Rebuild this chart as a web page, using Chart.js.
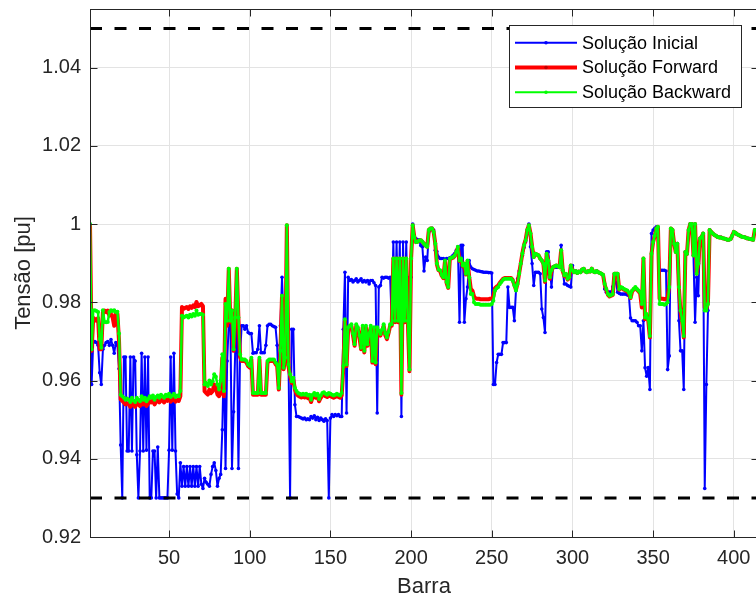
<!DOCTYPE html>
<html>
<head>
<meta charset="utf-8">
<script src="https://cdn.jsdelivr.net/npm/chart.js@4/dist/chart.umd.min.js"></script>
<style>
  html, body { margin: 0; padding: 0; background: #fff; overflow: hidden; }
  #wrap { width: 780px; height: 600px; }
</style>
</head>
<body>
<div id="wrap"><canvas id="chart"></canvas></div>
<script>
const inicial = [
  1.0, 0.959, 0.9697, 0.97, 0.9697, 0.969, 0.962, 0.959, 0.968, 0.969,
  0.9697, 0.97, 0.969, 0.9705, 0.969, 0.967, 0.9697, 0.969, 0.963, 0.9435,
  0.93, 0.966, 0.966, 0.942, 0.942, 0.966, 0.942, 0.966, 0.965, 0.941,
  0.93, 0.942, 0.967, 0.942, 0.966, 0.9422, 0.966, 0.93, 0.93, 0.942,
  0.942, 0.93, 0.943, 0.93, 0.93, 0.93, 0.93, 0.93, 0.93, 0.9422,
  0.966, 0.9422, 0.967, 0.942, 0.931, 0.93, 0.939, 0.933, 0.938, 0.933,
  0.938, 0.933, 0.938, 0.933, 0.938, 0.933, 0.938, 0.933, 0.938, 0.9335,
  0.9324, 0.935, 0.934, 0.9335, 0.933, 0.936, 0.938, 0.939, 0.937, 0.933,
  0.935, 0.936, 0.9474, 0.9667, 0.9375, 0.965, 0.9744, 0.9753, 0.9375, 0.952,
  0.9676, 0.9744, 0.9375, 0.9667, 0.974, 0.974, 0.9731, 0.974, 0.9723, 0.972,
  0.972, 0.967, 0.9671, 0.9671, 0.968, 0.974, 0.9671, 0.9671, 0.9671, 0.969,
  0.974, 0.9744, 0.9744, 0.974, 0.9738, 0.9736, 0.969, 0.958, 0.974, 0.9864,
  0.9744, 0.9658, 0.9736, 0.9658, 0.93, 0.9731, 0.9731, 0.9538, 0.9508, 0.9508,
  0.9506, 0.9504, 0.9502, 0.9504, 0.95, 0.9502, 0.95, 0.9508, 0.9504, 0.951,
  0.95, 0.9506, 0.9498, 0.9504, 0.95, 0.9496, 0.9502, 0.9498, 0.93, 0.9504,
  0.9513, 0.9508, 0.9513, 0.951, 0.9513, 0.9508, 0.9508, 0.9731, 0.9877, 0.9517,
  0.9864, 0.9856, 0.9858, 0.9852, 0.9856, 0.986, 0.9852, 0.9856, 0.986, 0.9852,
  0.9856, 0.9852, 0.9856, 0.9847, 0.9856, 0.9856, 0.985, 0.9843, 0.9517, 0.9839,
  0.9843, 0.9864, 0.9862, 0.9864, 0.9864, 0.9862, 0.9864, 0.9753, 0.9954, 0.9753,
  0.9954, 0.9753, 0.9954, 0.9508, 0.9954, 0.9753, 0.9954, 0.9753, 0.9864, 0.9864,
  1.0, 0.9967, 0.9963, 0.996, 0.996, 0.9945, 0.9942, 0.988, 0.9916, 0.9907,
  0.998, 0.9985, 0.9989, 0.9985, 0.9933, 0.993, 0.9916, 0.9912, 0.9912, 0.9912,
  0.991, 0.9912, 0.9912, 0.9914, 0.9916, 0.992, 0.9925, 0.9933, 0.9942, 0.9749,
  0.9946, 0.9946, 0.9749, 0.9809, 0.9839, 0.9907, 0.989, 0.9886, 0.9884, 0.9882,
  0.988, 0.988, 0.9879, 0.9878, 0.9877, 0.9877, 0.9877, 0.9876, 0.9876, 0.9875,
  0.959, 0.959, 0.9646, 0.9667, 0.9667, 0.9667, 0.9697, 0.9697, 0.9697, 0.9839,
  0.9787, 0.9787, 0.9787, 0.9753, 0.983, 0.986, 0.988, 0.9899, 0.992, 0.994,
  0.9955, 0.9985, 1.0, 0.9942, 0.9899, 0.9843, 0.9877, 0.9877, 0.9877, 0.9873,
  0.9783, 0.9761, 0.9723, 0.9929, 0.9929, 0.989, 0.9839, 0.989, 0.989, 0.989,
  0.989, 0.989, 0.9946, 0.9882, 0.9847, 0.9847, 0.9843, 0.9841, 0.9839, 0.9894,
  0.9877, 0.988, 0.9875, 0.9879, 0.9877, 0.9884, 0.9886, 0.9879, 0.9877, 0.988,
  0.9879, 0.9886, 0.9879, 0.9877, 0.988, 0.9877, 0.9875, 0.9873, 0.987, 0.9834,
  0.9826, 0.9826, 0.9826, 0.9826, 0.984, 0.9873, 0.985, 0.9826, 0.9823, 0.9821,
  0.9821, 0.9821, 0.9821, 0.9819, 0.9817, 0.976, 0.9753, 0.9753, 0.9753, 0.9749,
  0.974, 0.974, 0.9676, 0.9753, 0.9633, 0.9611, 0.9633, 0.9577, 0.9976, 0.9985,
  0.9989, 0.9993, 0.9989, 0.9882, 0.9882, 0.9882, 0.9882, 0.988, 0.9628, 0.9663,
  0.9985, 0.9985, 0.995, 0.995, 0.995, 0.9753, 0.9676, 0.9676, 0.9577, 0.9929,
  0.9924, 0.9985, 1.0, 1.0, 0.992, 0.9749, 0.9864, 0.9817, 0.9963, 0.9967,
  0.9976, 0.9324, 0.959, 0.9779, 0.9985, 0.998, 0.9976, 0.9972, 0.997, 0.9967,
  0.9966, 0.9966, 0.9964, 0.9963, 0.9962, 0.996, 0.996, 0.9962, 0.997, 0.998,
  0.9978, 0.9974, 0.9972, 0.997, 0.9968, 0.9967, 0.9966, 0.9964, 0.9963, 0.9962,
  0.9961, 0.996, 0.9985, 0.9985, 0.9985
]

const forward = [
  1.0, 0.9676, 0.976, 0.9757, 0.9753, 0.976, 0.968, 0.968, 0.9775, 0.9779,
  0.9775, 0.9779, 0.9766, 0.977, 0.9762, 0.974, 0.9775, 0.977, 0.97, 0.9552,
  0.9548, 0.9544, 0.9539, 0.9542, 0.9539, 0.9533, 0.9544, 0.9537, 0.9533, 0.9544,
  0.9539, 0.9535, 0.9548, 0.9539, 0.9544, 0.9535, 0.9541, 0.9548, 0.9544, 0.955,
  0.9539, 0.9546, 0.955, 0.9544, 0.9552, 0.9548, 0.9544, 0.9552, 0.9548, 0.9554,
  0.9546, 0.955, 0.9554, 0.9546, 0.955, 0.9548, 0.956, 0.9788, 0.9783, 0.9786,
  0.9788, 0.9783, 0.979, 0.9786, 0.9792, 0.9788, 0.9801, 0.979, 0.9792, 0.9796,
  0.979, 0.9573, 0.9568, 0.9564, 0.9577, 0.9568, 0.9573, 0.959, 0.9581, 0.9564,
  0.956, 0.9568, 0.9658, 0.956, 0.9809, 0.974, 0.9886, 0.9749, 0.9779, 0.9676,
  0.9757, 0.9886, 0.9757, 0.966, 0.965, 0.965, 0.965, 0.9646, 0.9637, 0.9633,
  0.9654, 0.9564, 0.9564, 0.9564, 0.9564, 0.9654, 0.9564, 0.9564, 0.9564, 0.9564,
  0.9646, 0.965, 0.965, 0.965, 0.965, 0.9642, 0.9637, 0.9577, 0.9672, 0.9817,
  0.9629, 0.9654, 0.9997, 0.9637, 0.9612, 0.9594, 0.9603, 0.9577, 0.9566, 0.9561,
  0.9559, 0.9557, 0.9559, 0.9557, 0.9559, 0.9555, 0.9557, 0.9545, 0.9558, 0.9562,
  0.9556, 0.956, 0.9547, 0.9556, 0.9562, 0.9564, 0.956, 0.9558, 0.9562, 0.956,
  0.9558, 0.9556, 0.9558, 0.956, 0.9558, 0.9556, 0.9562, 0.9633, 0.9753, 0.9637,
  0.9732, 0.9736, 0.974, 0.9716, 0.9689, 0.974, 0.9732, 0.9711, 0.968, 0.9736,
  0.9672, 0.9736, 0.9689, 0.9716, 0.9736, 0.9646, 0.9732, 0.9642, 0.9732, 0.9723,
  0.9715, 0.9726, 0.974, 0.9716, 0.9706, 0.9721, 0.974, 0.974, 0.9912, 0.9749,
  0.9912, 0.9749, 0.9912, 0.9564, 0.9912, 0.9749, 0.9912, 0.9749, 0.9624, 0.9912,
  0.9997, 0.9967, 0.9954, 0.9955, 0.9958, 0.9959, 0.9955, 0.995, 0.9945, 0.9942,
  0.9985, 0.9989, 0.9989, 0.998, 0.995, 0.9897, 0.9882, 0.988, 0.9868, 0.9862,
  0.9905, 0.985, 0.9837, 0.991, 0.9912, 0.9914, 0.9918, 0.9927, 0.994, 0.9905,
  0.991, 0.9892, 0.9897, 0.9871, 0.9905, 0.9866, 0.9834, 0.983, 0.9815, 0.981,
  0.9809, 0.9809, 0.9808, 0.9808, 0.9808, 0.9808, 0.9808, 0.9808, 0.9809, 0.981,
  0.9815, 0.9836, 0.984, 0.9843, 0.985, 0.9855, 0.986, 0.9862, 0.9862, 0.9862,
  0.9862, 0.9862, 0.9857, 0.9845, 0.9832, 0.9849, 0.9875, 0.99, 0.9926, 0.9947,
  0.996, 0.9985, 0.9997, 0.9976, 0.9942, 0.9916, 0.9924, 0.9922, 0.992, 0.9912,
  0.9907, 0.9899, 0.9852, 0.9924, 0.9907, 0.986, 0.988, 0.989, 0.9892, 0.9894,
  0.9892, 0.989, 0.9933, 0.988, 0.9867, 0.9871, 0.9858, 0.9862, 0.9894, 0.9882,
  0.9877, 0.988, 0.9875, 0.9879, 0.9877, 0.9884, 0.9886, 0.9879, 0.9877, 0.988,
  0.9879, 0.9886, 0.9879, 0.9877, 0.988, 0.9877, 0.9875, 0.9873, 0.987, 0.9845,
  0.9832, 0.9819, 0.9815, 0.9817, 0.9819, 0.9873, 0.9873, 0.9873, 0.9832, 0.9837,
  0.9835, 0.9832, 0.983, 0.9828, 0.9823, 0.9811, 0.9828, 0.9833, 0.9837, 0.9832,
  0.9828, 0.9822, 0.9787, 0.9912, 0.9757, 0.9766, 0.9753, 0.971, 0.9924, 0.9954,
  0.997, 0.9989, 0.9993, 0.9809, 0.9809, 0.9809, 0.9808, 0.9809, 0.9812, 0.9845,
  0.9989, 0.9985, 0.995, 0.9929, 0.995, 0.9835, 0.9775, 0.9749, 0.971, 0.9929,
  0.9924, 0.9985, 1.0, 1.0, 0.992, 1.0, 0.9873, 0.9899, 0.9963, 0.9967,
  0.9976, 0.9787, 0.9783, 0.98, 0.9985, 0.998, 0.9976, 0.9972, 0.997, 0.9967,
  0.9966, 0.9966, 0.9964, 0.9963, 0.9962, 0.996, 0.996, 0.9962, 0.997, 0.998,
  0.9978, 0.9974, 0.9972, 0.997, 0.9968, 0.9967, 0.9966, 0.9964, 0.9963, 0.9962,
  0.9961, 0.996, 0.9985, 0.9985, 0.9985
]

const backward = [
  1.0, 0.968, 0.9779, 0.978, 0.9778, 0.9775, 0.9706, 0.9684, 0.978, 0.975,
  0.9749, 0.975, 0.9775, 0.978, 0.9778, 0.978, 0.9775, 0.9776, 0.972, 0.9564,
  0.956, 0.9556, 0.9551, 0.9554, 0.9551, 0.9545, 0.9556, 0.9549, 0.9545, 0.9556,
  0.9551, 0.9547, 0.956, 0.9551, 0.9556, 0.9547, 0.9553, 0.956, 0.9556, 0.9562,
  0.9551, 0.9558, 0.9562, 0.9556, 0.9564, 0.956, 0.9556, 0.9564, 0.956, 0.9566,
  0.9558, 0.9562, 0.9566, 0.9558, 0.9562, 0.956, 0.9573, 0.9766, 0.9761, 0.9764,
  0.9766, 0.9761, 0.9768, 0.9764, 0.977, 0.9766, 0.9779, 0.9768, 0.977, 0.977,
  0.9768, 0.959, 0.9594, 0.9586, 0.96, 0.959, 0.9598, 0.9616, 0.961, 0.959,
  0.9577, 0.96, 0.9667, 0.9573, 0.9796, 0.9753, 0.9886, 0.9753, 0.9779, 0.968,
  0.9761, 0.9886, 0.9761, 0.9667, 0.9654, 0.9654, 0.9654, 0.965, 0.9641, 0.9637,
  0.9658, 0.9568, 0.9568, 0.9568, 0.9568, 0.9658, 0.9568, 0.9568, 0.9568, 0.9568,
  0.965, 0.9654, 0.9654, 0.9654, 0.9654, 0.9646, 0.9641, 0.9581, 0.9676, 0.9817,
  0.9633, 0.9658, 0.9997, 0.9641, 0.9616, 0.9598, 0.9607, 0.9581, 0.9573, 0.9568,
  0.9566, 0.9564, 0.9566, 0.9564, 0.9566, 0.9562, 0.9564, 0.9551, 0.9564, 0.9568,
  0.9562, 0.9566, 0.9553, 0.9562, 0.9568, 0.957, 0.9566, 0.9564, 0.9568, 0.9566,
  0.9564, 0.9562, 0.9564, 0.9566, 0.9564, 0.9562, 0.9568, 0.9637, 0.9757, 0.9641,
  0.9736, 0.974, 0.9744, 0.972, 0.9693, 0.9744, 0.9736, 0.9715, 0.9684, 0.974,
  0.9676, 0.974, 0.9693, 0.972, 0.974, 0.965, 0.9736, 0.9646, 0.9736, 0.9727,
  0.9719, 0.973, 0.9744, 0.972, 0.971, 0.9725, 0.9744, 0.9744, 0.9912, 0.9753,
  0.9912, 0.9753, 0.9912, 0.9568, 0.9912, 0.9753, 0.9912, 0.9753, 0.9628, 0.9912,
  0.9997, 0.9967, 0.9954, 0.9955, 0.9958, 0.9959, 0.9955, 0.995, 0.9945, 0.9942,
  0.9985, 0.9989, 0.9989, 0.998, 0.995, 0.9899, 0.9884, 0.9882, 0.987, 0.9864,
  0.9907, 0.9852, 0.9839, 0.9912, 0.9914, 0.9916, 0.992, 0.9929, 0.9942, 0.9907,
  0.9912, 0.9894, 0.9899, 0.9873, 0.9907, 0.9864, 0.9821, 0.9821, 0.98, 0.9796,
  0.9796, 0.9796, 0.9794, 0.9794, 0.9794, 0.9794, 0.9794, 0.9794, 0.9794, 0.9796,
  0.9804, 0.983, 0.9836, 0.9839, 0.9847, 0.9852, 0.9858, 0.986, 0.986, 0.986,
  0.986, 0.986, 0.9855, 0.9843, 0.983, 0.9847, 0.9873, 0.9899, 0.9925, 0.9946,
  0.9959, 0.9985, 0.9997, 0.9976, 0.9942, 0.9916, 0.9924, 0.9922, 0.992, 0.9912,
  0.9907, 0.9899, 0.9856, 0.9924, 0.9907, 0.9864, 0.9882, 0.989, 0.9892, 0.9894,
  0.9892, 0.989, 0.9933, 0.9882, 0.9869, 0.9873, 0.986, 0.9864, 0.9894, 0.9882,
  0.9877, 0.988, 0.9875, 0.9879, 0.9877, 0.9884, 0.9886, 0.9879, 0.9877, 0.988,
  0.9879, 0.9886, 0.9879, 0.9877, 0.988, 0.9877, 0.9875, 0.9873, 0.987, 0.9847,
  0.9834, 0.9821, 0.9817, 0.9819, 0.9821, 0.9873, 0.9873, 0.9873, 0.9834, 0.9839,
  0.9837, 0.9834, 0.9832, 0.983, 0.9825, 0.9813, 0.983, 0.9835, 0.9839, 0.9834,
  0.983, 0.9826, 0.9796, 0.9912, 0.9761, 0.977, 0.9757, 0.9714, 0.9924, 0.9954,
  0.997, 0.9989, 0.9993, 0.9796, 0.9796, 0.9796, 0.9794, 0.9796, 0.98, 0.9839,
  0.9989, 0.9985, 0.995, 0.9929, 0.995, 0.9839, 0.9779, 0.9753, 0.9714, 0.9929,
  0.9924, 0.9985, 1.0, 1.0, 0.992, 1.0, 0.9873, 0.9899, 0.9963, 0.9967,
  0.9976, 0.9779, 0.9779, 0.9796, 0.9985, 0.998, 0.9976, 0.9972, 0.997, 0.9967,
  0.9966, 0.9966, 0.9964, 0.9963, 0.9962, 0.996, 0.996, 0.9962, 0.997, 0.998,
  0.9978, 0.9974, 0.9972, 0.997, 0.9968, 0.9967, 0.9966, 0.9964, 0.9963, 0.9962,
  0.9961, 0.996, 0.9985, 0.9985, 0.9985
]

// limites de tensao (linhas tracejadas)
const limiteInf = 0.93
const limiteSup = 1.05
const barraRange = [1, 415]

const xTicks = [50, 100, 150, 200, 250, 300, 350, 400]
const yTicks = [0.92, 0.94, 0.96, 0.98, 1.0, 1.02, 1.04]

const seriesNames = ['Solução Inicial', 'Solução Forward', 'Solução Backward']
const seriesColors = ['#0000ff', '#ff0000', '#00ff00']

const TEXT = '#262626'
const GRID = '#e3e3e3'
const FONT = '"Liberation Sans", Arial, Helvetica, sans-serif'

function toPoints(arr) {
  return arr.map((v, i) => ({x: i + 1, y: v}))
}

function limitLine(v) {
  return {
    data: barraRange.map(b => ({x: b, y: v})),
    borderColor: '#000',
    borderWidth: 3,
    borderDash: [12, 12.5],
    pointRadius: 0,
    order: 0,
  }
}

// caixa estilo matlab: borda em volta e ticks para dentro
const boxPlugin = {
  id: 'boxPlugin',
  afterDatasetsDraw(chart) {
    const {ctx, chartArea: a, scales} = chart
    const L = Math.round(a.left) + 0.5
    const R = Math.round(a.right) + 0.5
    const T = Math.round(a.top) + 0.5
    const B = Math.round(a.bottom) + 0.5
    ctx.save()
    ctx.strokeStyle = TEXT
    ctx.lineWidth = 1
    ctx.strokeRect(L, T, R - L, B - T)
    ctx.beginPath()
    xTicks.forEach(v => {
      const px = Math.round(scales.x.getPixelForValue(v)) + 0.5
      ctx.moveTo(px, B); ctx.lineTo(px, B - 7)
      ctx.moveTo(px, T); ctx.lineTo(px, T + 7)
    })
    yTicks.forEach(v => {
      const py = Math.round(scales.y.getPixelForValue(v)) + 0.5
      ctx.moveTo(L, py); ctx.lineTo(L + 7, py)
      ctx.moveTo(R, py); ctx.lineTo(R - 7, py)
    })
    ctx.stroke()
    ctx.restore()
  }
}

const legendPlugin = {
  id: 'legendPlugin',
  afterDraw(chart) {
    const ctx = chart.ctx
    const bx = 509.5, by = 25.5, bw = 232, bh = 82
    const widths = [2, 4, 2]
    ctx.save()
    ctx.fillStyle = '#fff'
    ctx.fillRect(bx, by, bw, bh)
    ctx.strokeStyle = TEXT
    ctx.lineWidth = 1
    ctx.strokeRect(bx, by, bw, bh)
    ctx.font = '18px ' + FONT
    ctx.textBaseline = 'middle'
    ctx.textAlign = 'left'
    seriesNames.forEach((name, i) => {
      const yy = 42.7 + i * 24.8
      ctx.strokeStyle = seriesColors[i]
      ctx.lineWidth = widths[i]
      ctx.beginPath()
      ctx.moveTo(515, yy)
      ctx.lineTo(577, yy)
      ctx.stroke()
      ctx.fillStyle = i === 1 ? '#c00000' : seriesColors[i]
      ctx.beginPath()
      ctx.arc(546, yy, 1.8, 0, Math.PI * 2)
      ctx.fill()
      ctx.fillStyle = '#000'
      ctx.fillText(name, 582, yy + 1)
    })
    ctx.restore()
  }
}

const ctx = document.getElementById('chart').getContext('2d')
new Chart(ctx, {
  type: 'line',
  data: {
    datasets: [
      {
        label: seriesNames[0],
        data: toPoints(inicial),
        borderColor: seriesColors[0],
        backgroundColor: seriesColors[0],
        borderWidth: 2,
        pointRadius: 1.8,
        pointBorderWidth: 0,
        order: 3,
      },
      {
        label: seriesNames[1],
        data: toPoints(forward),
        borderColor: seriesColors[1],
        backgroundColor: seriesColors[1],
        borderWidth: 4,
        pointRadius: 0,
        order: 2,
      },
      {
        label: seriesNames[2],
        data: toPoints(backward),
        borderColor: seriesColors[2],
        backgroundColor: seriesColors[2],
        borderWidth: 2.5,
        pointRadius: 2,
        pointBorderWidth: 0,
        order: 1,
      },
      limitLine(limiteInf),
      limitLine(limiteSup),
    ]
  },
  options: {
    responsive: true,
    maintainAspectRatio: false,
    animation: false,
    events: [],
    layout: {padding: {top: 9, right: 22, left: 0, bottom: 0}},
    elements: {line: {tension: 0, borderJoinStyle: 'round', borderCapStyle: 'butt'}},
    plugins: {
      legend: {display: false},
      tooltip: {enabled: false},
    },
    scales: {
      x: {
        type: 'linear',
        min: barraRange[0],
        max: barraRange[1],
        afterBuildTicks: ax => { ax.ticks = xTicks.map(v => ({value: v})) },
        afterFit: ax => { ax.height = 63; ax.paddingLeft = 0; ax.paddingRight = 0 },
        grid: {color: GRID, drawTicks: false},
        border: {display: false},
        ticks: {
          color: TEXT,
          font: {family: FONT, size: 20},
          padding: 9,
          maxRotation: 0,
          autoSkip: false,
        },
        title: {
          display: true,
          text: 'Barra',
          color: TEXT,
          font: {family: FONT, size: 22},
          padding: {top: 0, bottom: 0},
        },
      },
      y: {
        min: 0.92,
        max: 1.055,
        afterBuildTicks: ax => { ax.ticks = yTicks.map(v => ({value: v})) },
        afterFit: ax => { ax.width = 90; ax.paddingTop = 0; ax.paddingBottom = 0 },
        grid: {color: GRID, drawTicks: false},
        border: {display: false},
        ticks: {
          color: TEXT,
          font: {family: FONT, size: 20},
          padding: 9,
          callback: v => String(Number(v.toFixed(2))),
        },
        title: {
          display: true,
          text: 'Tensão [pu]',
          color: TEXT,
          font: {family: FONT, size: 22},
          padding: {top: 11, bottom: 0},
        },
      },
    },
  },
  plugins: [boxPlugin, legendPlugin],
})
</script>
</body>
</html>
